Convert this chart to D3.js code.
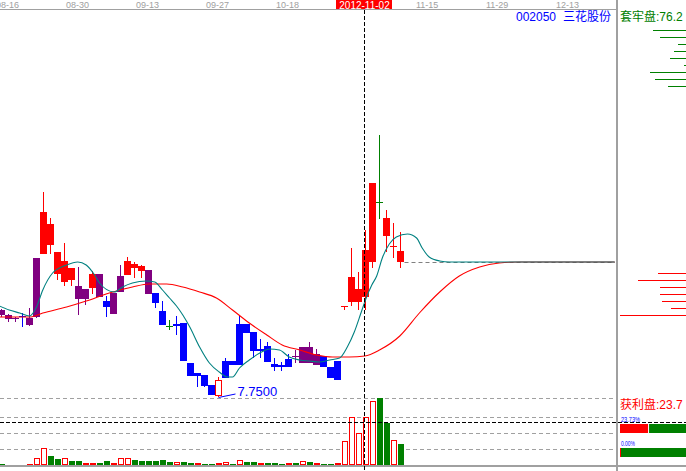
<!DOCTYPE html>
<html><head><meta charset="utf-8">
<script src="https://cdn.jsdelivr.net/npm/d3@7"></script>
<style>body{margin:0;background:#fff;overflow:hidden}svg{display:block}</style>
</head><body><svg id="c" width="686" height="471"></svg>
<script>
// ---------------- data ----------------
const tickDates = ["08-16","08-30","09-13","09-27","10-18","11-15","11-29","12-13"];
const tickIdx   = [0,10,20,30,40,60,70,80];
const opens  = [8.62,8.57,8.54,8.55,8.54,8.55,9.18,9.48,9.20,8.90,9.04,8.86,8.83,8.84,8.98,8.71,8.58,8.80,8.97,9.08,9.06,9.02,8.79,8.61,8.46,8.46,8.49,8.09,7.96,7.97,7.87,7.76,7.94,8.11,8.07,8.48,8.40,8.21,8.26,8.08,8.07,8.05,8.16,8.09,8.25,8.07,8.16,8.05,7.92,8.65,8.70,8.70,8.75,9.10,9.70,9.54,9.25,9.21];
const closes = [8.57,8.53,8.53,8.56,8.47,9.14,9.60,9.27,8.98,9.11,8.92,8.73,8.73,8.98,8.75,8.65,8.79,8.96,9.11,9.04,9.01,8.78,8.69,8.47,8.46,8.48,8.11,7.96,7.99,7.86,7.77,7.92,8.11,8.07,8.48,8.39,8.21,8.23,8.10,8.05,8.05,8.13,8.15,8.25,8.09,8.18,8.05,7.94,8.11,8.66,8.95,8.83,9.22,9.89,9.70,9.36,9.26,9.10];
const highs  = [8.63,8.58,8.55,8.59,8.64,9.14,9.80,9.54,9.20,9.29,9.04,9.05,8.83,9.01,8.98,8.76,8.79,9.07,9.15,9.10,9.07,9.02,8.79,8.71,8.52,8.56,8.49,8.09,7.99,7.97,7.87,7.95,8.14,8.11,8.57,8.48,8.40,8.33,8.30,8.14,8.10,8.18,8.22,8.25,8.30,8.23,8.16,8.05,8.11,8.66,9.24,9.00,9.42,9.89,10.37,9.62,9.49,9.40];
const lows   = [8.55,8.50,8.50,8.45,8.46,8.54,9.18,9.18,8.92,8.86,8.86,8.57,8.67,8.78,8.75,8.55,8.58,8.80,8.97,8.94,8.94,8.78,8.64,8.47,8.42,8.37,8.11,7.96,7.85,7.85,7.77,7.75,7.94,8.07,8.07,8.39,8.14,8.14,8.10,8.01,8.01,8.05,8.09,8.09,8.09,8.07,8.05,7.94,7.92,8.62,8.66,8.62,8.62,9.04,9.53,9.20,9.14,9.04];
// candle colour class: P purple, B blue, R red, G green, H hollow red
const candleKind = ["P","P","P","B","P","P","R","R","R","R","R","P","P","R","P","B","P","P","R","R","R","P","B","B","G","B","B","B","B","B","B","H","B","B","B","B","B","B","B","B","B","B","P","P","P","P","B","B","B","R","R","R","R","R","G","R","R","R"];
// volume (万手)
const volumes = [0.2,0,0,0,0.2,1.4,3.4,1.8,1.2,1.4,0.8,0.8,0.4,0.4,0.4,0.8,0.4,1.4,1.4,1.0,0.8,0.8,0.8,1.0,0.6,0.6,0.6,0.4,0.4,0.2,0.2,0.4,0.6,0.2,1.0,0.6,0.6,0.4,0.4,0.4,0.2,0.4,0.4,0.8,0.6,0.4,0.2,0.2,0.4,4.8,9.6,6.4,9.6,12.8,13.4,8.4,5.0,4.2];
const volKind = ["g","n","n","n","r","h","h","g","g","h","g","g","r","r","g","g","r","h","h","g","g","g","g","g","g","h","g","g","r","g","g","r","h","g","h","g","g","r","g","g","g","r","g","h","g","r","g","g","r","h","h","h","h","h","g","g","h","g"];
const volGrid = [3.2,6.4,9.6,13.4];
// smoothed cost lines [index, price]
const fastLine = [[-0.3,8.66],[1.1,8.62],[2.6,8.59],[4.0,8.56],[5.0,8.65],[5.9,8.82],[7.3,8.99],[9.3,9.07],[10.9,9.10],[12.1,9.07],[13.3,8.97],[14.0,8.89],[16.1,8.80],[17.3,8.85],[18.7,8.89],[20.7,8.91],[21.9,8.90],[23.0,8.82],[24.0,8.74],[25.0,8.66],[25.9,8.57],[26.9,8.45],[28.3,8.25],[29.7,8.09],[31.1,8.00],[32.3,7.95],[33.0,7.95],[34.0,8.04],[35.4,8.12],[36.9,8.19],[38.3,8.23],[39.7,8.22],[41.1,8.15],[42.6,8.12],[44.0,8.11],[45.4,8.10],[46.9,8.12],[48.3,8.14],[49.4,8.25],[50.4,8.40],[51.4,8.60],[52.1,8.74],[52.9,8.87],[53.6,8.96],[54.4,9.14],[55.4,9.28],[56.4,9.35],[58.0,9.38],[59.3,9.34],[60.1,9.24],[61.1,9.15],[62.6,9.11],[64.0,9.10],[87.6,9.10]];
const slowLine = [[-0.3,8.55],[4.0,8.55],[5.9,8.59],[9.3,8.65],[12.1,8.71],[15.4,8.79],[18.7,8.85],[21.1,8.88],[23.6,8.88],[25.9,8.85],[28.3,8.80],[30.7,8.74],[33.0,8.62],[35.4,8.49],[37.9,8.37],[40.1,8.27],[42.6,8.22],[45.0,8.17],[47.3,8.15],[49.7,8.15],[51.9,8.16],[54.0,8.22],[56.9,8.36],[59.7,8.59],[62.6,8.80],[65.4,8.96],[68.3,9.05],[71.1,9.09],[74.0,9.10],[87.6,9.10]];
// chip distribution
const chipUpPrice = [11.42,11.35,11.28,11.21,11.14,11.07,11.00,10.93,10.865];
const chipUpAmt   = [1.65,1.30,0.40,0.60,0.80,0.10,1.80,1.55,0.90];
const chipDnPrice = [8.99,8.92,8.85,8.78,8.71,8.64,8.57];
const chipDnAmt   = [1.40,2.40,1.30,1.30,1.20,0.75,3.30];
const profitPct = [23.73, 0.00];
const trappedLabel = "76.2", profitLabel = "23.7";
const stockCode = "002050", stockName = "三花股份";
const cursorIdx = 52, cursorLabel = "2012-11-02", cursorVol = 8.6;

// ---------------- scales ----------------
const svg = d3.select("#c");
const W = 686, H = 471, DIV = 616;
const x = d3.scaleLinear().domain([0, 87]).range([1.5, 1.5 + 7 * 87]);
const y = d3.scaleLinear().domain([7.75, 10.39]).range([397, 133]);
const yv = d3.scaleLinear().domain([0, 13.4]).range([465, 398]);
const chipLen = d3.scaleLinear().domain([0, 3.3]).range([0, 66]);
const pctX = d3.scaleLinear().domain([0, 100]).range([621, 735]);
const col = {P:"#800080", B:"#0000ff", R:"#ff0000", G:"#008000", H:"#ff0000"};
const font = "'Liberation Sans', Arial, 'Noto Sans CJK SC', sans-serif";
const cjk = "'Noto Sans CJK SC', 'Liberation Sans', sans-serif";

svg.append("rect").attr("width", W).attr("height", H).attr("fill", "#fff");

// volume grid
svg.append("g").selectAll("line").data(volGrid).join("line")
  .attr("x1", 0).attr("x2", DIV).attr("y1", d => Math.round(yv(d)) + 0.5).attr("y2", d => Math.round(yv(d)) + 0.5)
  .attr("stroke", "#a0a0a0").attr("stroke-dasharray", "4,3");

// chip lines
const gChip = svg.append("g");
chipUpPrice.forEach((p, k) => {
  const yy = Math.round(y(p)) + 0.5;
  gChip.append("line").attr("x1", W - chipLen(chipUpAmt[k])).attr("x2", W).attr("y1", yy).attr("y2", yy).attr("stroke", "#008000");
});
chipDnPrice.forEach((p, k) => {
  const yy = Math.round(y(p)) + 0.5;
  gChip.append("line").attr("x1", W - chipLen(chipDnAmt[k])).attr("x2", W).attr("y1", yy).attr("y2", yy).attr("stroke", "#ff0000");
});

// last close dashed
const lastI = closes.length - 1;
const yLast = Math.round(y(closes[lastI])) + 0.5;
svg.append("line").attr("x1", x(lastI) + 4).attr("x2", DIV - 1).attr("y1", yLast).attr("y2", yLast)
  .attr("stroke", "#808080").attr("stroke-dasharray", "4,3");

// candles
const gC = svg.append("g");
opens.forEach((o, i) => {
  const c = closes[i], k = candleKind[i], color = col[k];
  const cx = x(i);
  const yh = Math.round(y(highs[i])), yl = Math.round(y(lows[i]));
  const yt = Math.round(y(Math.max(o, c))), yb = Math.round(y(Math.min(o, c)));
  gC.append("line").attr("x1", cx).attr("x2", cx).attr("y1", yh).attr("y2", yl).attr("stroke", color);
  const bx = cx - 3.5, bh = Math.max(1, yb - yt);
  if (k === "H") {
    gC.append("rect").attr("x", bx + 0.5).attr("y", yt + 0.5).attr("width", 6).attr("height", bh - 1)
      .attr("fill", "#fff").attr("stroke", color);
  } else {
    gC.append("rect").attr("x", bx).attr("y", yt).attr("width", 7).attr("height", bh).attr("fill", color);
  }
});

// smoothed lines
const lineGen = d3.line().x(d => x(d[0])).y(d => y(d[1])).curve(d3.curveMonotoneX);
svg.append("path").attr("d", lineGen(slowLine)).attr("fill", "none").attr("stroke", "#ff0000").attr("stroke-width", 1.1);
svg.append("path").attr("d", lineGen(fastLine)).attr("fill", "none").attr("stroke", "#008080").attr("stroke-width", 1.1);

// low marker
const lowI = lows.indexOf(d3.min(lows));
const lx = x(lowI), ly = y(lows[lowI]);
svg.append("line").attr("x1", lx).attr("y1", ly + 0.5).attr("x2", lx + 17).attr("y2", ly - 3).attr("stroke", "#0000ff");
svg.append("text").attr("x", lx + 19).attr("y", ly - 1).attr("font-family", font).attr("font-size", 13)
  .attr("fill", "#0000ff").text(lows[lowI].toFixed(4));

// volume bars
const gV = svg.append("g");
volumes.forEach((v, i) => {
  if (volKind[i] === "n" || v <= 0) return;
  const top = Math.round(yv(v)), bx = x(i) - 2.5, h = 465 - top;
  if (volKind[i] === "h") {
    gV.append("rect").attr("x", bx + 0.5).attr("y", top + 0.5).attr("width", 5).attr("height", h - 1)
      .attr("fill", "#fff").attr("stroke", "#ff0000");
  } else {
    gV.append("rect").attr("x", bx).attr("y", top).attr("width", 6).attr("height", h)
      .attr("fill", volKind[i] === "g" ? "#008000" : "#ff0000");
  }
});

// frame lines
svg.append("rect").attr("x", 0).attr("y", 9).attr("width", DIV).attr("height", 1).attr("fill", "#a0a0a0");
svg.append("rect").attr("x", DIV).attr("y", 0).attr("width", 2).attr("height", H).attr("fill", "#a0a0a0");
svg.append("rect").attr("x", 0).attr("y", 465).attr("width", W).attr("height", 2).attr("fill", "#a0a0a0");

// date ticks
svg.append("g").selectAll("text").data(tickDates).join("text")
  .attr("x", (d, k) => x(tickIdx[k]) - 5.5).attr("y", 8)
  .attr("font-family", font).attr("font-size", 9).attr("fill", "#a0a0a0").text(d => d);

// profit bars
const barY = [424, 448];
profitPct.forEach((p, k) => {
  const xr = pctX(p);
  svg.append("rect").attr("x", 620).attr("y", barY[k]).attr("width", Math.max(1, xr - 620)).attr("height", 9).attr("fill", "#ff0000");
  const gx = Math.max(621, xr + (p > 0 ? 1 : 0));
  svg.append("rect").attr("x", gx).attr("y", barY[k]).attr("width", 735 - gx).attr("height", 9).attr("fill", "#008000");
  svg.append("text").attr("x", 621).attr("y", barY[k] - 2).attr("font-family", font).attr("font-size", 8)
    .attr("textLength", p > 0 ? 19 : 14).attr("lengthAdjust", "spacingAndGlyphs")
    .attr("fill", "#0000ff").text(p.toFixed(2) + "%");
});

// cursor lines
const cxp = Math.floor(x(cursorIdx)) + 0.5 - 1;
svg.append("line").attr("x1", cxp).attr("x2", cxp).attr("y1", 10).attr("y2", H)
  .attr("stroke", "#000").attr("stroke-dasharray", "4,2");
const cy = Math.round(yv(cursorVol)) + 0.5;
svg.append("line").attr("x1", 0).attr("x2", W).attr("y1", cy).attr("y2", cy)
  .attr("stroke", "#000").attr("stroke-dasharray", "4,2");

// cursor date label
svg.append("rect").attr("x", cxp - 28.5).attr("y", 0).attr("width", 56).attr("height", 9).attr("fill", "#ff0000");
svg.append("text").attr("x", cxp).attr("y", 8.5).attr("text-anchor", "middle").attr("font-family", font)
  .attr("font-size", 10).attr("fill", "#fff").text(cursorLabel);

// titles
svg.append("text").attr("x", 516).attr("y", 21).attr("font-family", font).attr("font-size", 12).attr("fill", "#0000ff").text(stockCode);
svg.append("text").attr("x", 563).attr("y", 21).attr("font-family", cjk).attr("font-size", 12).attr("fill", "#0000ff").text(stockName);
svg.append("text").attr("x", 620).attr("y", 21).attr("font-family", cjk).attr("font-size", 12).attr("fill", "#008000").text("套牢盘");
svg.append("text").attr("x", 656).attr("y", 21).attr("font-family", font).attr("font-size", 12).attr("fill", "#008000").text(":" + trappedLabel);
svg.append("text").attr("x", 620).attr("y", 409).attr("font-family", cjk).attr("font-size", 12).attr("fill", "#ff0000").text("获利盘");
svg.append("text").attr("x", 656).attr("y", 409).attr("font-family", font).attr("font-size", 12).attr("fill", "#ff0000").text(":" + profitLabel);
</script></body></html>
